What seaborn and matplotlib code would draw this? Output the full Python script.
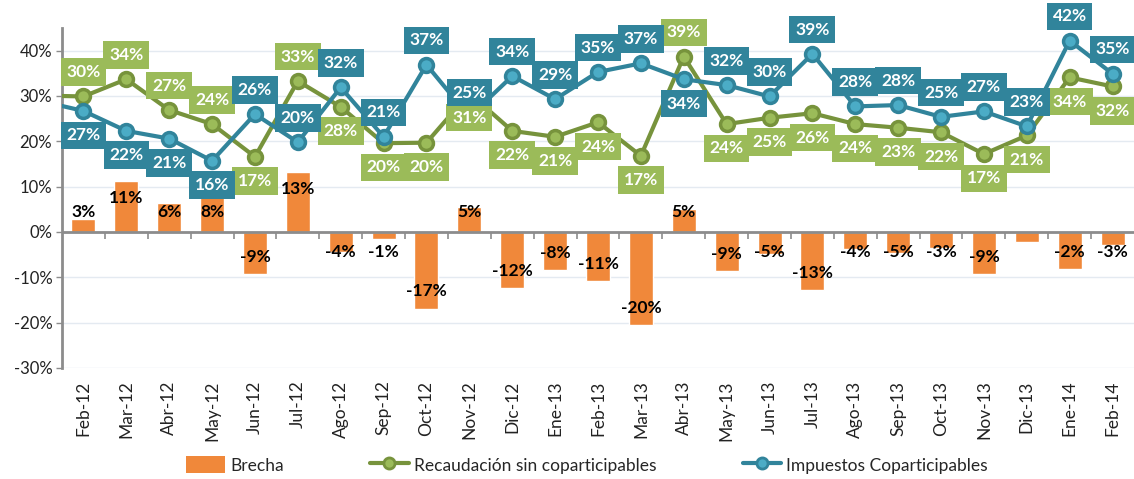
import matplotlib
matplotlib.use("Agg")
import matplotlib.pyplot as plt
from matplotlib.lines import Line2D
from matplotlib.patches import Patch
import seaborn as sns

# months shown on the axis (Ene-12 only feeds the line stub at the left edge)
months = ["Feb-12", "Mar-12", "Abr-12", "May-12", "Jun-12", "Jul-12", "Ago-12",
          "Sep-12", "Oct-12", "Nov-12", "Dic-12", "Ene-13", "Feb-13", "Mar-13",
          "Abr-13", "May-13", "Jun-13", "Jul-13", "Ago-13", "Sep-13", "Oct-13",
          "Nov-13", "Dic-13", "Ene-14", "Feb-14"]

brecha = [2.8, 11.2, 6.3, 7.8, -9.3, 13.2, -4.4, -1.6, -16.9, 5.6, -12.4, -8.4,
          -10.9, -20.5, 5.0, -8.7, -4.9, -12.9, -3.7, -4.7, -3.6, -9.3, -2.2,
          -8.2, -2.9]
brecha_labels = ["3%", "11%", "6%", "8%", "-9%", "13%", "-4%", "-1%", "-17%",
                 "5%", "-12%", "-8%", "-11%", "-20%", "5%", "-9%", "-5%",
                 "-13%", "-4%", "-5%", "-3%", "-9%", "", "-2%", "-3%"]

recaudacion_ene12 = 30.1
recaudacion = [29.9, 33.7, 26.9, 23.8, 16.6, 33.3, 27.6, 19.6, 19.7, 30.6, 22.3,
               21.0, 24.2, 16.8, 38.7, 23.8, 25.2, 26.2, 23.8, 23.0, 22.0, 17.2,
               21.3, 34.1, 32.1]

impuestos_ene12 = 28.9
impuestos = [26.7, 22.3, 20.6, 15.7, 26.0, 19.8, 31.9, 21.0, 36.9, 25.4, 34.4,
             29.3, 35.3, 37.2, 33.7, 32.4, 29.9, 39.3, 27.7, 28.0, 25.4, 26.6,
             23.3, 42.2, 34.9]

# label side: a = above the point, b = below
recaudacion_side = "aaaababbbbbbbbabbbbbbbbbb"
impuestos_side = "bbbbaaaaaaaaaabaaaaaaaaaa"

ORANGE = "#F0883A"
GREEN_LINE = "#77933C"
GREEN_FILL = "#9BBB59"
BLUE_LINE = "#31849B"
BLUE_FILL = "#4BACC6"
GRAY = "#8C8C8C"

sns.set_theme(style="white")
plt.rcParams["font.family"] = ["Lato", "DejaVu Sans"]

fig = plt.figure(figsize=(11.34, 4.79), dpi=100)
ax = fig.add_axes([62 / 1134, 1 - 368 / 479, 1 - 62 / 1134, 340 / 479])

pos = list(range(len(months)))
line_pos = [-1] + pos

sns.barplot(x=pos, y=brecha, native_scale=True, width=0.56, color=ORANGE,
            saturation=1, ax=ax, zorder=2)
sns.lineplot(x=line_pos, y=[recaudacion_ene12] + recaudacion, ax=ax,
             color=GREEN_LINE, linewidth=3, marker="o", markersize=10,
             markerfacecolor=GREEN_FILL, markeredgecolor=GREEN_LINE,
             markeredgewidth=2.5, zorder=4)
sns.lineplot(x=line_pos, y=[impuestos_ene12] + impuestos, ax=ax,
             color=BLUE_LINE, linewidth=3, marker="o", markersize=10,
             markerfacecolor=BLUE_FILL, markeredgecolor=BLUE_LINE,
             markeredgewidth=2.5, zorder=4)

ax.set_xlim(-0.5, len(months) - 0.5)
ax.set_ylim(-30, 45)

# zero axis with category tick marks
ax.axhline(0, color=GRAY, lw=2, zorder=3)
ax.vlines([p + 0.5 for p in pos[:-1]], -1.5, 0, color=GRAY, lw=1.2, zorder=3)

# bar labels
for x, v, t in zip(pos, brecha, brecha_labels):
    if not t:
        continue
    if v >= 0:
        y = max(v - 3.8, 4.5)
    else:
        y = min(v + 3.8, -4.5)
    ax.text(x, y, t, ha="center", va="center", fontsize=12.5,
            fontweight="bold", color="black", zorder=5)


def box_labels(values, sides, face):
    for x, v, s in zip(pos, values, sides):
        off = 17.5 if s == "a" else -17.5
        ax.annotate(f"{round(v):d}%", (x, v), xytext=(0, off),
                    textcoords="offset points", ha="center", va="center",
                    fontsize=12.5, fontweight="bold", color="white", zorder=6,
                    bbox=dict(boxstyle="square,pad=0.33", fc=face, ec="none"))


box_labels(recaudacion, recaudacion_side, GREEN_FILL)
box_labels(impuestos, impuestos_side, BLUE_LINE)

ax.set_yticks(range(-30, 41, 10))
ax.set_yticklabels([f"{v}%" for v in range(-30, 41, 10)], fontsize=12,
                   color="#222222")
ax.set_xticks(pos)
ax.set_xticklabels(months, rotation=90, fontsize=12.5, color="#222222")
ax.tick_params(axis="x", length=0, pad=9)
ax.tick_params(axis="y", length=4, width=1, color=GRAY, left=True, pad=3)
ax.yaxis.grid(True, color="#E4EAF1", lw=1)
ax.set_axisbelow(True)
for side in ["top", "right", "bottom"]:
    ax.spines[side].set_visible(False)
ax.spines["left"].set_color(GRAY)
ax.spines["left"].set_linewidth(2)

handles = [
    Patch(facecolor=ORANGE, edgecolor="none"),
    Line2D([], [], color=GREEN_LINE, lw=3, marker="o", markersize=8,
           markerfacecolor=GREEN_FILL, markeredgecolor=GREEN_LINE,
           markeredgewidth=2),
    Line2D([], [], color=BLUE_LINE, lw=3, marker="o", markersize=8,
           markerfacecolor=BLUE_FILL, markeredgecolor=BLUE_LINE,
           markeredgewidth=2),
]
ax.legend(handles, ["Brecha", "Recaudación sin coparticipables",
                    "Impuestos Coparticipables"],
          loc="center", bbox_to_anchor=(0.49, -0.285), ncol=3, frameon=False,
          fontsize=12.5, handlelength=2.2, handleheight=1.1,
          columnspacing=5.0, handletextpad=0.3)

fig.savefig("out.png", dpi=100)
